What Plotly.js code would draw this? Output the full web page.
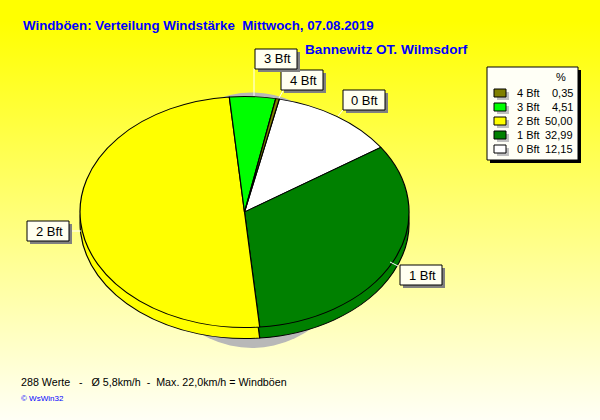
<!DOCTYPE html>
<html><head><meta charset="utf-8">
<script src="https://cdn.plot.ly/plotly-3.0.1.min.js"></script>
<style>
html,body{margin:0;padding:0;width:600px;height:420px;overflow:hidden}
#chart{width:600px;height:420px;background:linear-gradient(to bottom,#ffff00 0%,#ffff00 5%,#fffff6 100%)}
</style></head><body><div id="chart"></div>
<script>
const categories = ['0 Bft','1 Bft','2 Bft','3 Bft','4 Bft'];
const shares = [12.15,32.99,50.00,4.51,0.35];
const sliceColors = ['#ffffff','#008000','#ffff00','#00ff00','#808000'];
const titleMain = 'Windböen: Verteilung Windstärke  Mittwoch, 07.08.2019';
const titleSub = 'Bannewitz OT. Wilmsdorf';
const footer = '288 Werte   -   Ø 5,8km/h  -  Max. 22,0km/h = Windböen';
const credit = '© WsWin32';

const W=600,H=420, cx=244.5, cy=212, rx=164.5, ry=115.5, depth=11, k=ry/rx;
const FONT='Liberation Sans, Arial, sans-serif';
const px=x=>x/W, py=y=>1-y/H;
function pie(centerY){
  return {type:'pie',values:shares,labels:categories,sort:false,direction:'clockwise',rotation:12.2,
    marker:{colors:sliceColors,line:{color:'#000',width:1.2}},textinfo:'none',hoverinfo:'skip',showlegend:false,
    domain:{x:[px(cx-rx),px(cx+rx)],y:[py(centerY+rx),py(centerY-rx)]}};
}
const shapes=[], annotations=[];
const rect=(x0,y0,x1,y1,fill,line,layer)=>shapes.push({type:'rect',xref:'paper',yref:'paper',x0:px(x0),x1:px(x1),y0:py(y0),y1:py(y1),
  fillcolor:fill,line:line?{color:line,width:1}:{width:0},layer:layer||'above'});
const seg=(x0,y0,x1,y1)=>shapes.push({type:'line',xref:'paper',yref:'paper',x0:px(x0),x1:px(x1),y0:py(y0),y1:py(y1),line:{color:'#fff',width:1},layer:'above'});
const text=(x,y,t,o)=>annotations.push(Object.assign({xref:'paper',yref:'paper',x:px(x),y:py(y),text:t,showarrow:false,xanchor:'left',yanchor:'middle',
  borderpad:0,font:{family:FONT,size:12,color:'#000'}},o||{}));

// drop shadow below the pie
shapes.push({type:'circle',xref:'paper',yref:'paper',x0:px(252-112),x1:px(252+112),y0:py(348),y1:py(92.5),fillcolor:'#b8b8b8',line:{width:0},layer:'below'});

// leader lines and callouts
seg(254,68,254,96); seg(284,89,279,98); seg(343,110,338,116); seg(398,266,390,262); seg(69,231,81,231);
const callouts=[[4,281,70],[3,255,49],[0,343,90],[2,27,221],[1,400,265]];
callouts.forEach(([i,x,y])=>{
  rect(x+3,y+3,x+45,y+23,'#808080');
  rect(x,y,x+42,y+20,'#fffff0','#000');
  text(x+22,y+10,categories[i],{xanchor:'center',font:{family:FONT,size:13,color:'#000'}});
});

// legend
rect(490,70,581,163,'#000');
rect(487,67,578,160,'#fffff6','#000');
const f={family:FONT,size:11,color:'#000'};
text(555,77,'%',{font:f});
[4,3,2,1,0].forEach((i,row)=>{
  const y=93+row*14;
  rect(497,y-1,509,y+7,'#c0c0c0');
  rect(494,y-4,506,y+4,sliceColors[i],'#000');
  text(516,y,categories[i],{font:f});
  text(574,y,shares[i].toFixed(2).replace('.',','),{xanchor:'right',font:f});
});

text(22,25,titleMain,{font:{family:FONT,size:13.3,color:'#0000ff',weight:700}});
text(304,49,titleSub,{font:{family:FONT,size:13.6,color:'#0000ff',weight:700}});
text(20,382,footer,{font:{family:FONT,size:10.7,color:'#000'}});
text(20,398,credit,{font:{family:FONT,size:8,color:'#0000ff'}});

Plotly.newPlot('chart',[pie(cy+depth/k),pie(cy)],{
  width:W,height:H,margin:{l:0,r:0,t:0,b:0},paper_bgcolor:'rgba(0,0,0,0)',plot_bgcolor:'rgba(0,0,0,0)',
  showlegend:false,shapes,annotations,font:{family:FONT}
},{displayModeBar:false,staticPlot:true}).then(gd=>{
  // Plotly pies are always circular: flatten the pie layer into the reference's tilted ellipse
  gd.querySelector('.pielayer').setAttribute('transform',`matrix(1 0 0 ${k} 0 ${cy*(1-k)})`);
});
</script></body></html>
